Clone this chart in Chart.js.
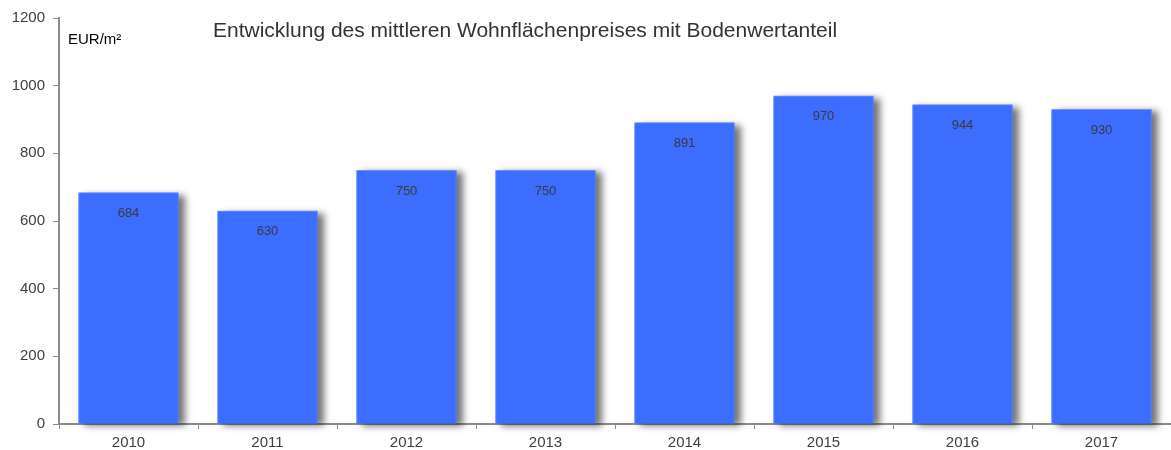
<!DOCTYPE html>
<html lang="de">
<head>
<meta charset="utf-8">
<title>Wohnflächenpreis</title>
<script src="https://cdn.jsdelivr.net/npm/chart.js@4.4.1/dist/chart.umd.min.js"></script>
<style>
  html, body { margin: 0; padding: 0; background: #fff; }
  #wrap { width: 1171px; height: 450px; position: relative; }
</style>
</head>
<body>
<div id="wrap"><canvas id="preisChart" width="1171" height="450"></canvas></div>
<script>
// Jahre und mittlerer Wohnflächenpreis (EUR/m²)
const jahre = ['2010', '2011', '2012', '2013', '2014', '2015', '2016', '2017'];
const preise = [684, 630, 750, 750, 891, 970, 944, 930];
const yTicks = [0, 200, 400, 600, 800, 1000, 1200];

const titel = 'Entwicklung des mittleren Wohnflächenpreises mit Bodenwertanteil';
const einheit = 'EUR/m²';
const FONT = '"Liberation Sans", Arial, sans-serif';

// grauer Schatten rechts neben jedem Balken
const schatten = {
  id: 'schatten',
  beforeDatasetsDraw(chart) {
    const c = chart.ctx;
    c.save();
    c.shadowColor = 'rgba(0,0,0,0.55)';
    c.shadowOffsetX = 6;
    c.shadowOffsetY = 2;
    c.shadowBlur = 7;
    c.fillStyle = '#3d6dff';
    chart.getDatasetMeta(0).data.forEach(bar => {
      const { x, y, base, width } = bar.getProps(['x', 'y', 'base', 'width'], true);
      c.fillRect(x - width / 2, y, width, base - y);
    });
    c.restore();
  }
};

// Werte in die Balken, Titel und Einheit
const beschriftung = {
  id: 'beschriftung',
  afterDraw(chart) {
    const c = chart.ctx;
    c.save();
    c.textAlign = 'center';
    c.textBaseline = 'middle';
    c.fillStyle = '#3a3a3a';
    c.font = '13px ' + FONT;
    chart.getDatasetMeta(0).data.forEach((bar, i) => {
      c.fillText(String(preise[i]), bar.x, bar.y + 21);
    });
    c.textAlign = 'left';
    c.fillStyle = '#333';
    c.font = '21px ' + FONT;
    c.fillText(titel, 213, 31);
    c.fillStyle = '#000';
    c.font = '15px ' + FONT;
    c.fillText(einheit, 68, 40);
    c.restore();
  }
};

new Chart(document.getElementById('preisChart'), {
  type: 'bar',
  data: {
    labels: jahre,
    datasets: [{
      data: preise,
      backgroundColor: '#3d6dff',
      borderColor: '#7093ff',
      borderWidth: { top: 1, left: 1, right: 1, bottom: 0 },
      categoryPercentage: 0.72,
      barPercentage: 1
    }]
  },
  options: {
    responsive: false,
    animation: false,
    layout: { padding: { top: 18, right: 0, left: 0, bottom: 0 } },
    plugins: { legend: { display: false }, tooltip: { enabled: false } },
    scales: {
      x: {
        afterFit(s) { s.height = 26; },
        grid: { drawOnChartArea: false, color: '#8c8c8c', tickLength: 5, offset: true },
        border: { color: '#8c8c8c', width: 2 },
        ticks: { color: '#404040', font: { family: FONT, size: 15 }, padding: 5 }
      },
      y: {
        min: 0,
        max: 1200,
        afterFit(s) { s.width = 59; },
        afterBuildTicks(s) { s.ticks = yTicks.map(v => ({ value: v })); },
        grid: { drawOnChartArea: false, color: '#8c8c8c', tickLength: 6 },
        border: { color: '#8c8c8c', width: 2 },
        ticks: {
          color: '#404040',
          font: { family: FONT, size: 15 },
          padding: 8,
          callback: v => String(v)
        }
      }
    }
  },
  plugins: [schatten, beschriftung]
});
</script>
</body>
</html>
